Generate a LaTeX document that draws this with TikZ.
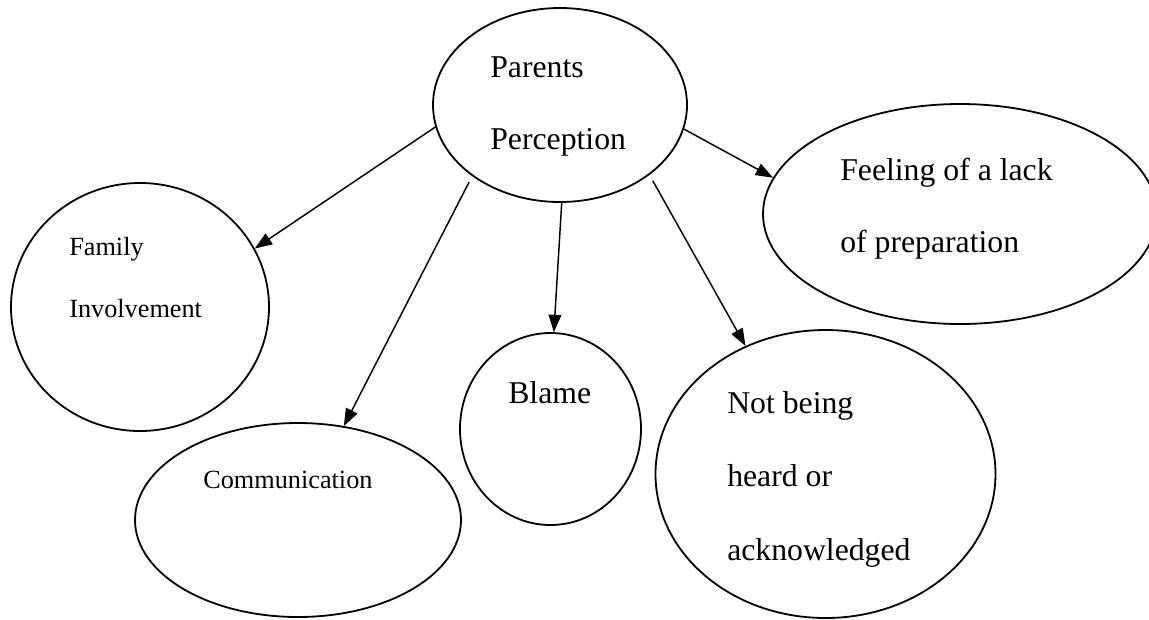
\documentclass[tikz,border=0pt]{standalone}
\usepackage{fontspec}
\setmainfont{Liberation Serif}
\usetikzlibrary{shapes.geometric,arrows.meta}
\begin{document}
\begin{tikzpicture}[x=0.75pt,y=-0.75pt,
  bub/.style={ellipse,draw,line width=1.35pt,inner sep=0pt},
  big/.style={anchor=base west,inner sep=0pt,align=left,font=\fontsize{23.8pt}{54pt}\selectfont},
  small/.style={anchor=base west,inner sep=0pt,align=left,font=\fontsize{19.7pt}{46.5pt}\selectfont},
  conn/.style={line width=1.1pt,-{Triangle[length=13pt,width=9.5pt]}}]
\useasboundingbox (0,0) rectangle (1149,619);
% bubbles
\node[bub,minimum width=190.5pt,minimum height=145.5pt] (pp) at (560,105) {};
\node[bub,minimum width=295.5pt,minimum height=165pt] (fee) at (960,214) {};
\node[bub,minimum width=193.5pt,minimum height=186pt] (fam) at (140,307) {};
\node[bub,minimum width=244.5pt,minimum height=145.5pt] (com) at (298,520) {};
\node[bub,minimum width=135.75pt,minimum height=144pt] (bla) at (550.5,429) {};
\node[bub,minimum width=255pt,minimum height=216pt] (nbh) at (825.5,474) {};
% texts (anchored at the baseline of the last line)
\node[big] (ppt) at (490,149) {Parents\\Perception};
\node[big] (feet) at (840,252) {Feeling of a lack\\of preparation};
\node[small] (famt) at (69,317) {Family\\Involvement};
\node[small] (comt) at (203,488) {Communication};
\node[big] (blat) at (508,403) {Blame};
\node[big,font=\fontsize{23.8pt}{55pt}\selectfont] (nbht) at (727,560) {Not being\\heard or\\acknowledged};
% connectors
\draw[conn] (pp.190.3) -- (fam.27.9);
\draw[conn,shorten <=5pt] (pp.219.2) -- (com.64.8);
\draw[conn] (pp.271.8) -- (bla.88.2);
\draw[conn,shorten <=5pt] (pp.322.3) -- (nbh.122.9);
\draw[conn] (pp.349.7) -- (fee.169.3);
\end{tikzpicture}
\end{document}
